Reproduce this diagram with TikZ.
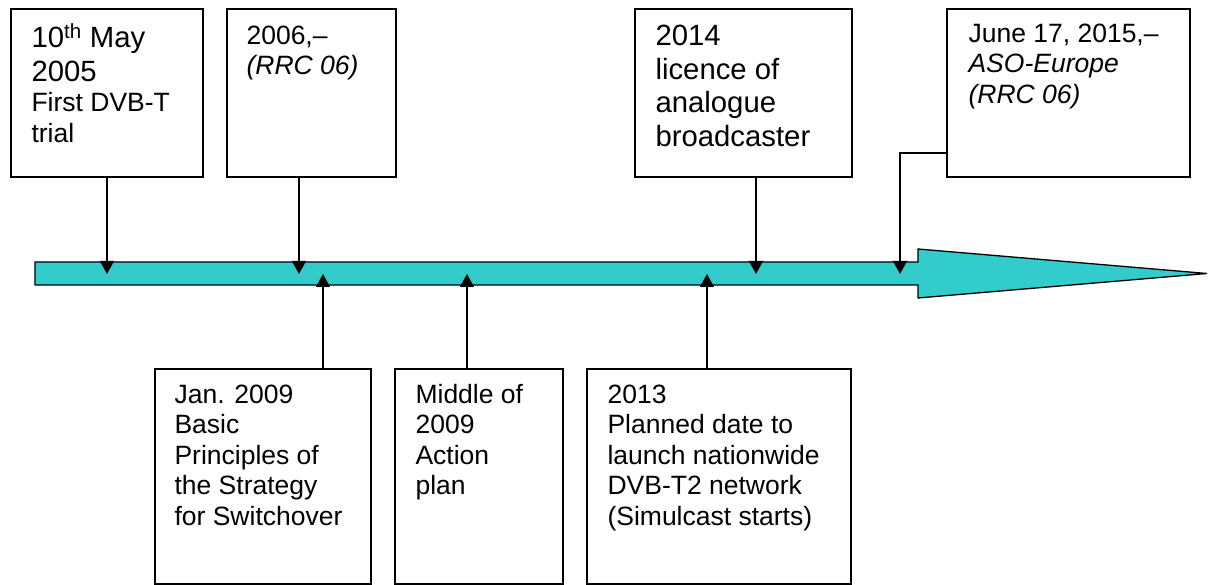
\documentclass[tikz,border=0pt]{standalone}
\usepackage{fontspec}
\setmainfont{Liberation Sans}
\usetikzlibrary{arrows.meta}
\newcommand\smtxt{\fontsize{26.5}{30.5}\selectfont}
\newcommand\bigtxt{\fontsize{29.3}{33.7}\selectfont}
\definecolor{shaftcol}{HTML}{33CCCC}
\tikzset{
  box/.style={draw=black, line width=1.3pt, fill=white, rectangle, inner sep=0pt},
  txt/.style={anchor=base west, inner sep=0pt, align=left},
  conn/.style={line width=1.3pt, -{Triangle[width=14pt,length=13pt]}},
}
\begin{document}
\begin{tikzpicture}[x=1pt,y=-1pt]
\useasboundingbox (0,0) rectangle (1208,585);
% timeline arrow
\draw[line width=1.3pt, fill=shaftcol, line join=miter]
  (35,262) -- (918,262) -- (918,249) -- (1207,273.5) -- (918,298) -- (918,285) -- (35,285) -- cycle;
% points on the timeline
\coordinate (p1) at (107,274);
\coordinate (p2) at (299,274);
\coordinate (p4) at (756,274);
\coordinate (p5) at (900,274);
\coordinate (pA) at (323,274);
\coordinate (pB) at (467,274);
\coordinate (pC) at (707,274);
% top boxes
\node[box, minimum width=192pt, minimum height=168pt] (b1) at (107,93) {};
\node[box, minimum width=169pt, minimum height=168pt] (b2) at (311.5,93) {};
\node[box, minimum width=217pt, minimum height=168pt] (b4) at (743.5,93) {};
\node[box, minimum width=243pt, minimum height=168pt] (b5) at (1068.5,93) {};
% bottom boxes
\node[box, minimum width=216pt, minimum height=215pt] (bA) at (263,476.5) {};
\node[box, minimum width=168pt, minimum height=215pt] (bB) at (479,476.5) {};
\node[box, minimum width=264pt, minimum height=215pt] (bC) at (719,476.5) {};
% texts
\node[txt] (t1) at ([shift={(21,39)}]b1.north west)
  {\parbox[t]{180pt}{\bigtxt 10\textsuperscript{th} May\\2005\par\smtxt First DVB-T\\trial}};
\node[txt] (t2) at ([shift={(20,36)}]b2.north west)
  {\parbox[t]{150pt}{\smtxt 2006,–\\\textit{(RRC 06)}}};
\node[txt] (t4) at ([shift={(21,37)}]b4.north west)
  {\parbox[t]{195pt}{\bigtxt 2014\\licence of\\analogue\\broadcaster}};
\node[txt] (t5) at ([shift={(22,34)}]b5.north west)
  {\parbox[t]{220pt}{\smtxt June 17, 2015,–\\\textit{ASO-Europe}\\\textit{(RRC 06)}}};
\node[txt] (tA) at ([shift={(20,35)}]bA.north west)
  {\parbox[t]{195pt}{\smtxt Jan. 2009\\Basic\\Principles of\\the Strategy\\for Switchover}};
\node[txt] (tB) at ([shift={(21,35)}]bB.north west)
  {\parbox[t]{145pt}{\smtxt Middle of\\2009\\Action\\plan}};
\node[txt] (tC) at ([shift={(21,35)}]bC.north west)
  {\parbox[t]{240pt}{\smtxt 2013\\Planned date to\\launch nationwide\\DVB-T2 network\\(Simulcast starts)}};
% connectors
\draw[conn] (b1.south -| p1) -- (p1);
\draw[conn] (b2.south -| p2) -- (p2);
\draw[conn] (b4.south -| p4) -- (p4);
\draw[conn] (b5.west |- 0,153) -- (900,153) -- (p5);
\draw[conn] (bA.north -| pA) -- (pA);
\draw[conn] (bB.north -| pB) -- (pB);
\draw[conn] (bC.north -| pC) -- (pC);
\end{tikzpicture}
\end{document}
